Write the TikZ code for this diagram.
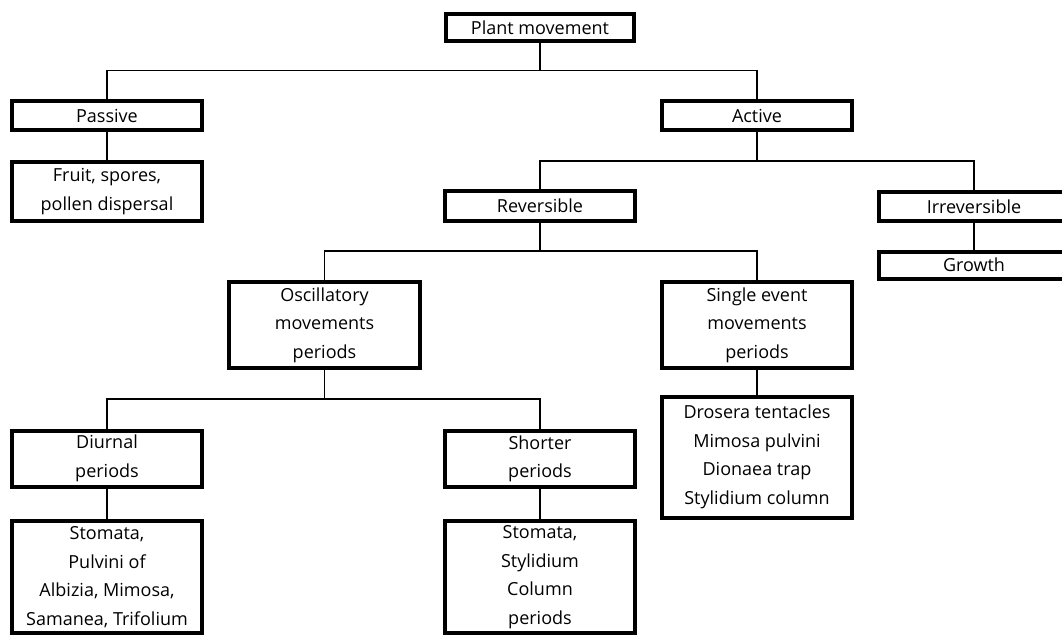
\documentclass[tikz,border=0pt]{standalone}
\usepackage{fontspec}
\setmainfont{Open Sans}
\begin{document}
\begin{tikzpicture}[x=1pt, y=-1pt,
boxnode/.style={rectangle, draw=black, line width=4pt, fill=white, inner sep=0pt, align=center, font=\fontsize{18}{28.5}\selectfont},
linkline/.style={draw=black, line width=1.6pt},
]
\useasboundingbox (0,0) rectangle (1062,635);
%Nodes
\node[boxnode, minimum width=188pt, minimum height=27pt]  (plant)     at (540,27.5)  {Plant movement};
\node[boxnode, minimum width=190pt, minimum height=29pt]  (passive)   at (107,115.5) {Passive};
\node[boxnode, minimum width=190pt, minimum height=29pt]  (active)    at (757,115.5) {Active};
\node[boxnode, minimum width=190pt, minimum height=59pt]  (fruit)     at (107,191.5) {Fruit, spores,\\pollen dispersal};
\node[boxnode, minimum width=190pt, minimum height=30pt]  (reversible)   at (540,206) {Reversible};
\node[boxnode, minimum width=190pt, minimum height=29pt]  (irreversible) at (974,206.5) {Irreversible};
\node[boxnode, minimum width=190pt, minimum height=27pt]  (growth)    at (974,265)   {Growth};
\node[boxnode, minimum width=191pt, minimum height=86pt]  (oscillatory) at (324.5,325) {Oscillatory\\movements\\periods};
\node[boxnode, minimum width=190pt, minimum height=86pt]  (single)    at (757,325)   {Single event\\movements\\periods};
\node[boxnode, minimum width=190pt, minimum height=121pt] (drosera)   at (757,457)   {Drosera tentacles\\Mimosa pulvini\\Dionaea trap\\Stylidium column};
\node[boxnode, minimum width=190pt, minimum height=56pt]  (diurnal)   at (107,458.5) {Diurnal\\periods};
\node[boxnode, minimum width=190pt, minimum height=56pt]  (shorter)   at (540,459)   {Shorter\\periods};
\node[boxnode, minimum width=190pt, minimum height=112pt] (stomataA)  at (107,577)   {Stomata,\\Pulvini of\\Albizia, Mimosa,\\Samanea, Trifolium};
\node[boxnode, minimum width=190pt, minimum height=112pt] (stomataB)  at (540,577)   {Stomata,\\Stylidium\\Column\\periods};

%Lines
\coordinate (busA) at (540,70.5);
\coordinate (busB) at (757,161);
\coordinate (busC) at (540,251);
\coordinate (busD) at (324.5,399);
\draw[linkline] (plant.south) -- (busA);
\draw[linkline] (busA) -| (passive.north);
\draw[linkline] (busA) -| (active.north);
\draw[linkline] (passive.south) -- (fruit.north);
\draw[linkline] (active.south) -- (busB);
\draw[linkline] (busB) -| (reversible.north);
\draw[linkline] (busB) -| (irreversible.north);
\draw[linkline] (irreversible.south) -- (growth.north);
\draw[linkline] (reversible.south) -- (busC);
\draw[linkline] (busC) -| (oscillatory.north);
\draw[linkline] (busC) -| (single.north);
\draw[linkline] (single.south) -- (drosera.north);
\draw[linkline] (oscillatory.south) -- (busD);
\draw[linkline] (busD) -| (diurnal.north);
\draw[linkline] (busD) -| (shorter.north);
\draw[linkline] (diurnal.south) -- (stomataA.north);
\draw[linkline] (shorter.south) -- (stomataB.north);
\end{tikzpicture}
\end{document}
